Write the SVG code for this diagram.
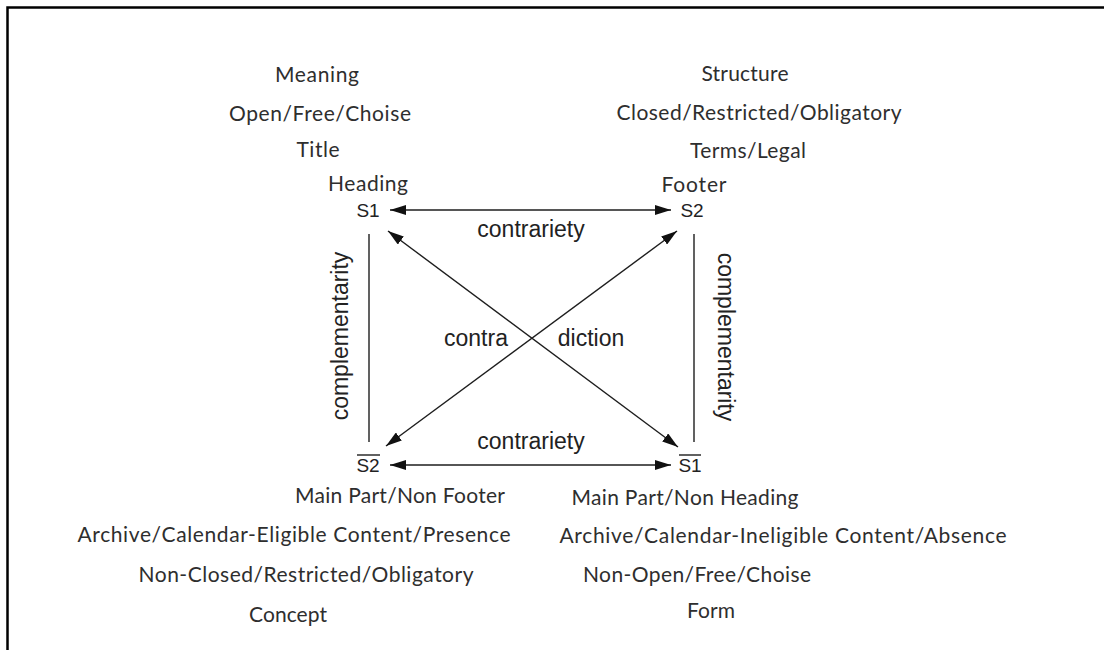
<svg xmlns="http://www.w3.org/2000/svg" width="1104" height="650" viewBox="0 0 1104 650">
<style>
.lbl{font-family:Lato,"Open Sans","Liberation Sans",sans-serif;font-size:21px;fill:#2e2e2e;text-anchor:middle}
.sym{font-family:"Liberation Sans",Arial,sans-serif;font-size:19px;fill:#222;text-anchor:middle}
.rel{font-family:"Liberation Sans",Arial,sans-serif;font-size:23px;fill:#222;text-anchor:middle}
.ln{stroke:#1e1e1e;stroke-width:1.4;fill:none}
.frame{stroke:#000;stroke-width:2.5;fill:none}
</style>
<defs>
<marker id="ah" markerUnits="userSpaceOnUse" markerWidth="17" markerHeight="10" refX="16" refY="5" orient="auto-start-reverse">
<path d="M0,0 L16,5 L0,10 Z" fill="#111"/>
</marker>
</defs>
<rect width="1104" height="650" fill="#fff"/>
<path class="frame" d="M7.5,650 L7.5,7.5 L1104,7.5"/>

<g id="connectors">
<line class="ln" x1="390" y1="210" x2="671" y2="210" marker-start="url(#ah)" marker-end="url(#ah)"/>
<line class="ln" x1="390" y1="465" x2="671" y2="465" marker-start="url(#ah)" marker-end="url(#ah)"/>
<line class="ln" x1="369" y1="234" x2="369" y2="442"/>
<line class="ln" x1="694" y1="234" x2="694" y2="442"/>
<line class="ln" x1="388" y1="231" x2="678" y2="447" marker-start="url(#ah)" marker-end="url(#ah)"/>
<line class="ln" x1="677" y1="231" x2="386" y2="446" marker-start="url(#ah)" marker-end="url(#ah)"/>
<text class="rel" x="531" y="237">contrariety</text>
<text class="rel" x="531" y="449">contrariety</text>
<text class="rel" x="476" y="346">contra</text>
<text class="rel" x="591" y="346">diction</text>
<text class="rel" transform="translate(348,336) rotate(-90)">complementarity</text>
<text class="rel" transform="translate(718,337) rotate(90)">complementarity</text>
</g>

<g id="s1">
<text class="lbl" x="317" y="82" textLength="84">Meaning</text>
<text class="lbl" x="320" y="121" textLength="182">Open/Free/Choise</text>
<text class="lbl" x="318" y="157" textLength="43">Title</text>
<text class="lbl" x="368" y="191" textLength="80">Heading</text>
<text class="sym" x="368" y="217">S1</text>
</g>

<g id="s2">
<text class="lbl" x="745" y="81" textLength="87">Structure</text>
<text class="lbl" x="759" y="120" textLength="285">Closed/Restricted/Obligatory</text>
<text class="lbl" x="748" y="158" textLength="116">Terms/Legal</text>
<text class="lbl" x="694" y="192" textLength="65">Footer</text>
<text class="sym" x="692" y="217">S2</text>
</g>

<g id="not-s2">
<text class="sym" x="368" y="472">S2</text>
<line class="ln" x1="357" y1="455" x2="380" y2="455"/>
<text class="lbl" x="400" y="503" textLength="210">Main Part/Non Footer</text>
<text class="lbl" x="294" y="542" textLength="433">Archive/Calendar-Eligible Content/Presence</text>
<text class="lbl" x="306" y="582" textLength="335">Non-Closed/Restricted/Obligatory</text>
<text class="lbl" x="288" y="622" textLength="78">Concept</text>
</g>

<g id="not-s1">
<text class="sym" x="690" y="472">S1</text>
<line class="ln" x1="679" y1="455" x2="701" y2="455"/>
<text class="lbl" x="685" y="505" textLength="227">Main Part/Non Heading</text>
<text class="lbl" x="783" y="543" textLength="447">Archive/Calendar-Ineligible Content/Absence</text>
<text class="lbl" x="697" y="582" textLength="228">Non-Open/Free/Choise</text>
<text class="lbl" x="711" y="618" textLength="48">Form</text>
</g>
</svg>
